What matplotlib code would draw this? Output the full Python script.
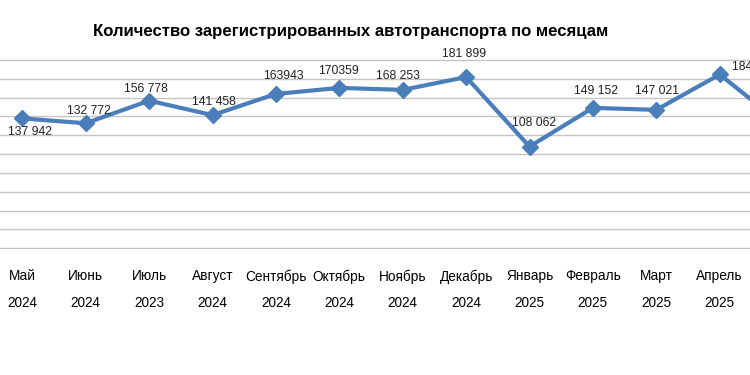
import matplotlib
matplotlib.use("Agg")
import matplotlib.pyplot as plt

plt.rcParams['font.family'] = ['Liberation Sans', 'DejaVu Sans']

# данные по месяцам
months = ['Май', 'Июнь', 'Июль', 'Август', 'Сентябрь', 'Октябрь', 'Ноябрь',
          'Декабрь', 'Январь', 'Февраль', 'Март', 'Апрель', 'Май']
years = ['2024', '2024', '2023', '2024', '2024', '2024', '2024',
         '2024', '2025', '2025', '2025', '2025', '2025']
values = [137942, 132772, 156778, 141458, 163943, 170359, 168253,
          181899, 108062, 149152, 147021, 184600, 131000]
value_labels = ['137 942', '132 772', '156 778', '141 458', '163943', '170359', '168 253',
                '181 899', '108 062', '149 152', '147 021', '184 600', '131 000']

# смещения подписей (пиксели)
label_offsets = [(8, -14), (3, 12), (-3, 12), (1, 13), (8, 18), (-1, 17), (-5, 14),
                 (-2, 23), (5, 24), (3, 17), (1, 19), (12, 7), (8, 10)]

fig = plt.figure(figsize=(7.5, 3.75), dpi=100)
ax = fig.add_axes([0, 0.336, 1, 0.506])

x = list(range(len(values)))
ax.plot(x, values, color='#4a7ebb', linewidth=3, marker='D', markersize=8,
        zorder=3)

for i, (v, lab) in enumerate(zip(values, value_labels)):
    dx, dy = label_offsets[i]
    ha = 'left' if i == 11 else 'center'
    # подписи за пределами области графика не выводим
    ax.annotate(lab, (i, v), xytext=(dx, dy), textcoords='offset pixels',
                ha=ha, va='center', fontsize=8.8, color='#222222')

ax.set_xlim(-0.352, 11.478)
ax.set_ylim(-800, 200800)
ax.set_yticks(range(0, 200001, 20000))
ax.yaxis.grid(True, color='#c4c4c4', linewidth=1)
ax.set_axisbelow(True)
for s in ax.spines.values():
    s.set_visible(False)
ax.tick_params(left=False, bottom=False, labelleft=False)

ax.set_xticks(x[:12])
ax.set_xticklabels([m + '\n' + y for m, y in zip(months[:12], years[:12])],
                   fontsize=9.8, linespacing=2.15)
ax.tick_params(axis='x', pad=11)

fig.text(0.468, 0.915, 'Количество зарегистрированных автотранспорта по месяцам',
         ha='center', va='center', fontsize=12.1, fontweight='bold')

fig.savefig('out.png', dpi=100)
